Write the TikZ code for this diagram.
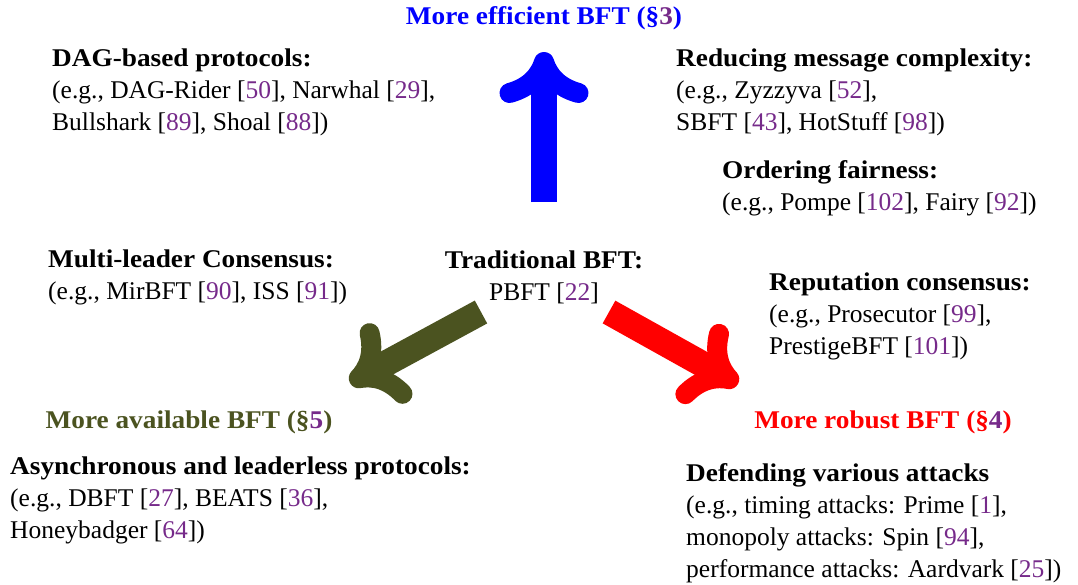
\documentclass[tikz,border=0pt]{standalone}
\usepackage{fontspec}
\setmainfont[BoldFeatures={FakeStretch=1.07}]{Liberation Serif}
\usetikzlibrary{arrows.meta}
\definecolor{citepurple}{RGB}{118,42,138}
\definecolor{olivegreen}{RGB}{75,83,32}
\newcommand{\rf}[1]{[\textcolor{citepurple}{#1}]}
\begin{document}
\begin{tikzpicture}[x=1pt,y=-1pt,
  txt/.style={inner sep=0pt, align=left, font=\fontsize{25.5}{32}\selectfont},
  ctxt/.style={txt, align=center},
  ttl/.style={inner sep=0pt, font=\fontsize{25.5}{32}\selectfont\bfseries},
  bigarrow/.style={line width=26pt,
    -{Computer Modern Rightarrow[length=51pt, width=89pt, line width=20pt, round]}}]
\useasboundingbox (0,0) rectangle (1078,584);

% category titles
\node[ttl, text=blue, anchor=base] (eff) at (544,24) {More efficient BFT (§\textcolor{citepurple}{3})};
\node[ttl, text=olivegreen, anchor=base] (avail) at (189,428) {More available BFT (§\textcolor{citepurple}{5})};
\node[ttl, text=red, anchor=base] (rob) at (883,428) {More robust BFT (§\textcolor{citepurple}{4})};

% centre (base anchor = baseline of the last line)
\node[ctxt, anchor=base] (trad) at (544,300) {\textbf{Traditional BFT:}\\PBFT \rf{22}};

% efficient
\node[txt, anchor=base west] (dag) at (52,130) {\textbf{DAG-based protocols:}\\(e.g., DAG-Rider \rf{50}, Narwhal \rf{29},\\Bullshark \rf{89}, Shoal \rf{88})};
\node[txt, anchor=base west] (msg) at (676,130) {\textbf{Reducing message complexity:}\\(e.g., Zyzzyva \rf{52},\\SBFT \rf{43}, HotStuff \rf{98})};
\node[txt, anchor=base west] (fair) at (722,210) {\textbf{Ordering fairness:}\\(e.g., Pompe \rf{102}, Fairy \rf{92})};

% available
\node[txt, anchor=base west] (multi) at (48,299) {\textbf{Multi-leader Consensus:}\\(e.g., MirBFT \rf{90}, ISS \rf{91})};
\node[txt, anchor=base west] (async) at (10,538) {\textbf{Asynchronous and leaderless protocols:}\\(e.g., DBFT \rf{27}, BEATS \rf{36},\\Honeybadger \rf{64})};

% robust
\node[txt, anchor=base west] (rep) at (769,354) {\textbf{Reputation consensus:}\\(e.g., Prosecutor \rf{99},\\PrestigeBFT \rf{101})};
\node[txt, anchor=base west] (def) at (686,577) {\textbf{Defending various attacks}\\(e.g., timing attacks: Prime \rf{1},\\monopoly attacks: Spin \rf{94},\\performance attacks: Aardvark \rf{25})};

% arrows
\coordinate (bS) at (544,202);
\coordinate (bE) at (544,52);
\coordinate (gS) at (481,312);
\coordinate (gE) at (350,383);
\coordinate (rS) at (609,312);
\coordinate (rE) at (738,384);
\draw[bigarrow, blue] (bS) -- (bE);
\draw[bigarrow, olivegreen] (gS) -- (gE);
\draw[bigarrow, red] (rS) -- (rE);
\end{tikzpicture}
\end{document}
